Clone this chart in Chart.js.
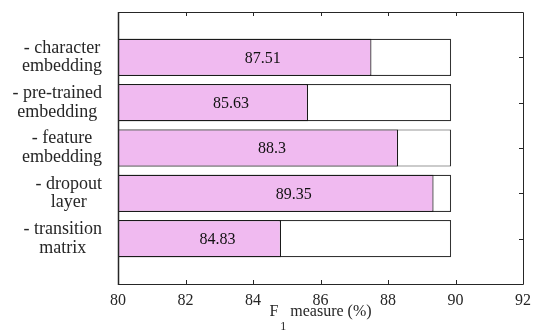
<!DOCTYPE html>
<html>
<head>
<script src="https://cdn.jsdelivr.net/npm/chart.js"></script>
</head>
<body style="margin:0">
<canvas id="myChart" width="535" height="334"></canvas>
<script>
const categories = [
  ["- character", "embedding"],
  ["- pre-trained", "embedding"],
  ["- feature", "embedding"],
  ["- dropout", "layer"],
  ["- transition", "matrix"],
];
const ablatedF1 = [87.51, 85.63, 88.3, 89.35, 84.83];
const fullModelF1 = [89.87, 89.87, 89.87, 89.87, 89.87];
const xTicks = [80, 82, 84, 86, 88, 90, 92];

const serif = '"Liberation Serif", "Times New Roman", serif';
const ink = "#262626";

// empty slot at each end so the bars sit at 1..5 on a 0..6 track
const labels = ["", ...categories.map((c) => c.join(" ")), ""];
const pad = (arr) => [null, ...arr, null];

const decor = {
  id: "decor",
  afterDatasetsDraw(chart) {
    const { ctx, chartArea: a, scales } = chart;
    const x = scales.x, y = scales.y;
    ctx.save();

    // values, left-aligned at the middle of each pink bar
    ctx.font = "16px " + serif;
    ctx.fillStyle = "#111";
    ctx.textAlign = "left";
    ctx.textBaseline = "middle";
    ablatedF1.forEach((v, i) => {
      const px = x.getPixelForValue((x.min + v) / 2);
      ctx.fillText(String(v), px, y.getPixelForValue(i + 1) + 1);
    });

    // box
    ctx.strokeStyle = ink;
    ctx.lineWidth = 1;
    ctx.beginPath();
    ctx.moveTo(a.left, a.top + 0.5); ctx.lineTo(a.right + 0.5, a.top + 0.5);
    ctx.lineTo(a.right + 0.5, a.bottom + 0.5); ctx.lineTo(a.left, a.bottom + 0.5);
    ctx.stroke();
    ctx.lineWidth = 1.5;
    ctx.beginPath();
    ctx.moveTo(a.left + 0.5, a.top); ctx.lineTo(a.left + 0.5, a.bottom + 1);
    ctx.stroke();

    // inward ticks
    ctx.lineWidth = 1;
    ctx.beginPath();
    xTicks.slice(1, -1).forEach((v) => {
      const px = Math.round(x.getPixelForValue(v)) + 0.5;
      ctx.moveTo(px, a.top); ctx.lineTo(px, a.top + 4);
      ctx.moveTo(px, a.bottom); ctx.lineTo(px, a.bottom - 4);
    });
    categories.forEach((c, i) => {
      const py = Math.round(y.getPixelForValue(i + 1)) + 0.5;
      ctx.moveTo(a.right, py); ctx.lineTo(a.right - 4, py);
    });
    ctx.stroke();

    // x tick labels
    ctx.fillStyle = ink;
    ctx.textAlign = "center";
    ctx.textBaseline = "alphabetic";
    ctx.font = "16px " + serif;
    xTicks.forEach((v) => ctx.fillText(String(v), x.getPixelForValue(v), a.bottom + 21));

    // category labels: block right-aligned, lines centred inside it
    ctx.textBaseline = "middle";
    ctx.font = "18px " + serif;
    categories.forEach((lines, i) => {
      const cy = y.getPixelForValue(i + 1);
      const w = Math.max(...lines.map((l) => ctx.measureText(l).width));
      const cx = a.left - 16 - w / 2;
      lines.forEach((l, j) => {
        ctx.fillText(l, cx, cy + (j - (lines.length - 1) / 2) * 18.5);
      });
    });

    // axis title with subscript
    const big = "16px " + serif, small = "12px " + serif;
    ctx.font = big;
    const wF = ctx.measureText("F").width;
    const wRest = ctx.measureText(" measure (%)").width;
    ctx.font = small;
    const wSub = ctx.measureText("1").width + 2;
    let tx = (a.left + a.right) / 2 - (wF + wSub + wRest) / 2;
    const base = 316;
    ctx.textAlign = "left";
    ctx.textBaseline = "alphabetic";
    ctx.font = big;
    ctx.fillText("F", tx, base);
    tx += wF + 2;
    ctx.font = small;
    ctx.fillText("1", tx, base + 14);
    tx += wSub - 2;
    ctx.font = big;
    ctx.fillText(" measure (%)", tx, base);

    ctx.restore();
  },
};

new Chart(document.getElementById("myChart"), {
  type: "bar",
  data: {
    labels: labels,
    datasets: [
      {
        label: "ablated",
        data: pad(ablatedF1),
        backgroundColor: "rgb(240,186,240)",
        borderColor: "#1a1a1a",
        borderWidth: 1.2,
        barPercentage: 0.82,
        categoryPercentage: 1,
        grouped: false,
      },
      {
        label: "full model",
        data: pad(fullModelF1),
        backgroundColor: "#ffffff",
        borderColor: "#333333",
        borderWidth: 1.2,
        barPercentage: 0.82,
        categoryPercentage: 1,
        grouped: false,
      },
    ],
  },
  options: {
    indexAxis: "y",
    responsive: false,
    animation: false,
    devicePixelRatio: 1,
    layout: { padding: { top: 12, right: 12, left: 0, bottom: 0 } },
    plugins: { legend: { display: false }, tooltip: { enabled: false } },
    scales: {
      x: {
        type: "linear",
        min: 80,
        max: 92,
        grid: { display: false, drawTicks: false },
        border: { display: false },
        ticks: { display: false, stepSize: 2 },
        afterFit: (s) => { s.height = 50; },
      },
      y: {
        type: "category",
        offset: false,
        grid: { display: false, drawTicks: false },
        border: { display: false },
        ticks: { display: false },
        afterFit: (s) => { s.width = 118; },
      },
    },
  },
  plugins: [decor],
});
</script>
</body>
</html>
